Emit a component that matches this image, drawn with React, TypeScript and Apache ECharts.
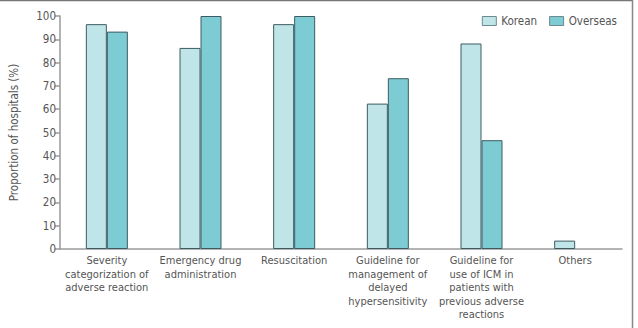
import React, { useEffect, useRef } from "react";
import * as echarts from "echarts";

const categories = [
  "Severity\ncategorization of\nadverse reaction",
  "Emergency drug\nadministration",
  "Resuscitation",
  "Guideline for\nmanagement of\ndelayed\nhypersensitivity",
  "Guideline for\nuse of ICM in\npatients with\nprevious adverse\nreactions",
  "Others",
];
const korean = [96.5, 86.3, 96.5, 62.4, 88.2, 3.6];
const overseas = [93.3, 100, 100, 73.3, 46.7, 0];
const seriesNames = ["Korean", "Overseas"];
const yAxisTitle = "Proportion of hospitals (%)";

const FONT = "'Liberation Sans Narrow', 'DejaVu Sans Condensed', sans-serif";
const TEXT = "#555";
const AXIS = "#9a9a9a";
const EDGE = "#3c5c62";

// zero-height bars get no outline so nothing is drawn for them
const toBarData = (values: number[]) =>
  values.map((v) => (v === 0 ? { value: v, itemStyle: { borderWidth: 0 } } : v));

export default function App() {
  const ref = useRef<HTMLDivElement>(null);

  useEffect(() => {
    if (!ref.current) return;
    const chart = echarts.init(ref.current, undefined, { renderer: "svg" });
    chart.setOption({
      animation: false,
      backgroundColor: "#fff",
      textStyle: { fontFamily: FONT },
      grid: { left: 57, right: 16, top: 16, bottom: 79 },
      legend: {
        data: seriesNames,
        icon: "rect",
        right: 16,
        top: 10,
        itemWidth: 14,
        itemHeight: 9,
        itemGap: 12,
        itemStyle: { borderColor: "#6b8a90", borderWidth: 1 },
        textStyle: { fontFamily: FONT, fontSize: 11.5, color: TEXT },
      },
      xAxis: {
        type: "category",
        data: categories,
        axisLine: { lineStyle: { color: AXIS, width: 1.5 } },
        axisTick: { show: false },
        axisLabel: {
          interval: 0,
          fontFamily: FONT,
          fontSize: 11,
          lineHeight: 13.5,
          color: TEXT,
          margin: 5,
        },
      },
      yAxis: {
        type: "value",
        min: 0,
        max: 100,
        interval: 10,
        name: yAxisTitle,
        nameLocation: "middle",
        nameGap: 40,
        nameTextStyle: { fontFamily: FONT, fontSize: 11.5, color: TEXT },
        axisLine: { show: true, lineStyle: { color: AXIS, width: 1.5 } },
        axisTick: { show: true, length: 5, lineStyle: { color: AXIS, width: 1.5 } },
        splitLine: { show: false },
        axisLabel: { fontFamily: FONT, fontSize: 11.5, color: TEXT, margin: 4 },
      },
      series: [
        {
          name: seriesNames[0],
          type: "bar",
          data: toBarData(korean),
          barWidth: 21,
          barGap: "0%",
          itemStyle: { color: "#c0e5e8", borderColor: EDGE, borderWidth: 1 },
        },
        {
          name: seriesNames[1],
          type: "bar",
          data: toBarData(overseas),
          barWidth: 21,
          barGap: "0%",
          itemStyle: { color: "#7dccd3", borderColor: EDGE, borderWidth: 1 },
        },
      ],
      graphic: [
        {
          type: "line",
          shape: { x1: 0, y1: 0.5, x2: 633, y2: 0.5 },
          style: { stroke: "#777", lineWidth: 1.5 },
        },
        {
          type: "line",
          shape: { x1: 632.5, y1: 0, x2: 632.5, y2: 328 },
          style: { stroke: "#888", lineWidth: 1.5 },
        },
      ],
    });
    return () => chart.dispose();
  }, []);

  return (
    <div
      ref={ref}
      style={{ position: "fixed", left: 0, top: 0, width: 638, height: 328 }}
    />
  );
}
